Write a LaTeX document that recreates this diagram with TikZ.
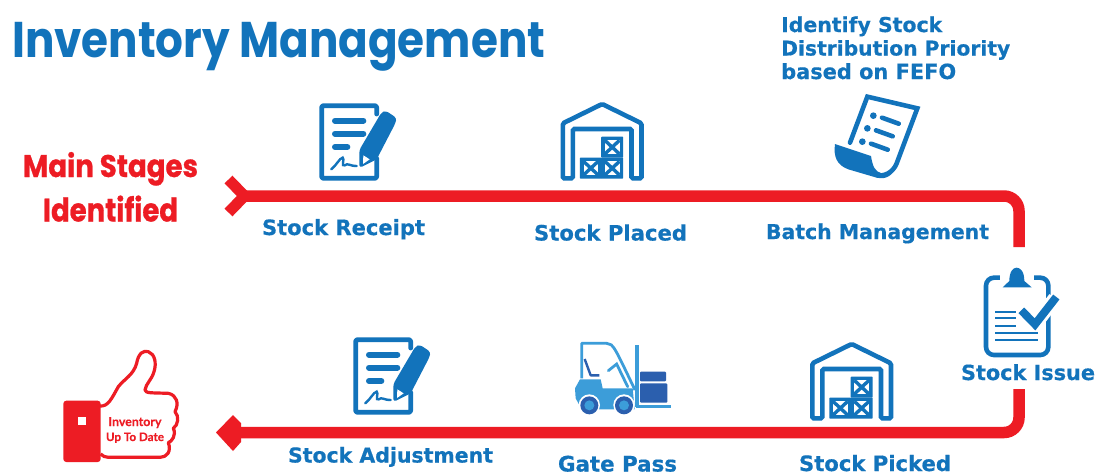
\documentclass[tikz,border=0pt]{standalone}
\usepackage{graphicx}
\usepackage{fontspec}
\setmainfont{DejaVu Sans}[BoldFeatures={FakeBold=0.5}]
\newfontfamily\titlefont{Poppins}
\newfontfamily\redfont{Poppins}[BoldFeatures={FakeBold=0.8}]
\newfontfamily\thumbfont{Lato}[BoldFeatures={FakeBold=0.3}]
\definecolor{invblue}{HTML}{1273BB}
\definecolor{invred}{HTML}{ED1C24}
\definecolor{liftlight}{HTML}{3C9DD9}
\definecolor{liftdark}{HTML}{2B5FAE}
\newcommand{\fitbold}[2]{\resizebox{#1pt}{!}{\bfseries #2}}
\newcommand{\crateat}[2]{%
  \fill[invblue,rounded corners=0.7pt] (#1,#2) rectangle (#1+66,#2+63);
  \fill[white] (#1+11,#2+11) rectangle (#1+55,#2+52);
  \draw[invblue,line width=3.4pt] (#1+11,#2+11)--(#1+55,#2+52) (#1+55,#2+11)--(#1+11,#2+52);
}
\tikzset{
  lbl/.style={text=invblue,inner sep=0pt,anchor=base},
  redlbl/.style={text=invred,inner sep=0pt,anchor=base},
  flowline/.style={draw=invred,line width=11.5pt,line cap=butt,rounded corners=15pt},
  iconline/.style={draw=invblue,line width=5pt,line cap=round,line join=round},
  thinline/.style={draw=invblue,line width=2pt},
  gapline/.style={draw=white,line join=round},
  zoomed/.style={shift={#1},scale=0.33333},
}
\newcommand{\docpenicon}{%
    \draw[iconline,line width=4.8pt,rounded corners=2pt] (470,72)--(470,47)--(305,47)--(305,265)--(470,265)--(470,205);
    \draw[iconline,line width=6pt] (345,92)--(430,92) (345,131)--(430,131) (345,171)--(382,171);
    \fill[invblue,rounded corners=3pt] (484,68)--(497,62)--(530,84)--(526,100)--(470,208)--(418,234)--(418,180)--cycle;
    \fill[white] (430,196)--(449,208)--(429,222)--cycle;
    \draw[invblue,line width=2.4pt,line cap=round] (334,238) .. controls (350,225) and (358,205) .. (368,203) .. controls (375,205) and (362,232) .. (374,226) .. controls (384,218) and (388,228) .. (410,228);
}
\newcommand{\barnicon}{%
    \draw[iconline,line width=4.6pt,line join=miter,rounded corners=1.5pt] (127,490)--(97,490)--(97,325)--(215,267)--(333,325)--(333,490)--(303,490)--(303,342)--(127,342)--cycle;
    \crateat{148}{428}
    \crateat{212}{428}
    \crateat{212}{365}
}
\begin{document}
\begin{tikzpicture}[x=1pt,y=-1pt]
\useasboundingbox (0,0) rectangle (1100,475);
\fill[white] (0,0) rectangle (1100,475);

% title and side labels
\node[lbl,anchor=base west] (title) at (12,57) {\titlefont\resizebox*{533pt}{49pt}{\bfseries Inventory Management}};
\node[redlbl] (mainA) at (110.5,177) {\redfont\resizebox{175pt}{25pt}{\bfseries Main Stages}};
\node[redlbl] (mainB) at (110.5,221.5) {\redfont\resizebox{135pt}{26pt}{\bfseries Identified}};

% step labels
\node[lbl] (receipt) at (343.5,235) {\fitbold{163}{Stock Receipt}};
\node[lbl] (placed) at (610.5,240.5) {\fitbold{153}{Stock Placed}};
\node[lbl] (batch) at (877.5,239) {\fitbold{223}{Batch Management}};
\node[lbl] (issue) at (1028,380) {\fitbold{134}{Stock Issue}};
\node[lbl] (picked) at (875,471) {\fitbold{152}{Stock Picked}};
\node[lbl] (gate) at (617.5,471.5) {\fitbold{119}{Gate Pass}};
\node[lbl] (adjust) at (390.5,462.5) {\fitbold{205}{Stock Adjustment}};
\node[lbl,anchor=base west] (identA) at (781,32) {\fitbold{161}{Identify Stock}};
\node[lbl,anchor=base west] (identB) at (781,55.5) {\fitbold{229}{Distribution Priority}};
\node[lbl,anchor=base west] (identC) at (781,79) {\fitbold{175}{based on FEFO}};

% connectors
\coordinate (topStart) at (244,196);
\coordinate (topCorner) at (1019,196);
\coordinate (issueIn) at (1019,247);
\coordinate (issueOut) at (1019,389);
\coordinate (botCorner) at (1019,432.5);
\coordinate (botEnd) at (236,432.5);
\coordinate (tailTop) at (228.5,179.5);
\coordinate (tailBot) at (228.5,212.5);
\coordinate (tailTip) at (244.5,196);
\draw[flowline] (topStart) -- (topCorner) -- (issueIn);
\draw[draw=invred,line width=11pt,line join=miter] (tailTop) -- (tailTip) -- (tailBot);
\draw[flowline] (issueOut) -- (botCorner) -- (botEnd);
\fill[invred] (216,432.5)--(233,415)--(241,423)--(241,442)--(233,451)--cycle;

% document icons
\begin{scope}[zoomed={(220,90)}]
  \docpenicon
\end{scope}
\begin{scope}[zoomed={(254,324)}]
  \docpenicon
\end{scope}

% warehouse icons
\begin{scope}[zoomed={(530.5,15)}]
  \barnicon
\end{scope}
\begin{scope}[zoomed={(780,255)}]
  \barnicon
\end{scope}

% batch list icon
\begin{scope}[zoomed={(740,0)}]
  \draw[iconline,line width=4.6pt,line join=miter] (330,428)--(382,290)--(532,325)--(470,490) .. controls (458,520) and (430,530) .. (410,525);
  \fill[invblue] (285,432)--(393,468) .. controls (398,500) and (405,515) .. (425,520) .. controls (445,522) and (455,510) .. (462,495)--(470,495) .. controls (460,525) and (440,540) .. (410,533)--(325,508) .. controls (290,495) and (280,470) .. (285,432)--cycle;
  \foreach \bx/\by in {400/347,382/385,367/425}{
    \fill[invblue] (\bx,\by) circle (10);
    \draw[iconline,line width=4.6pt] (\bx+26,\by+6)--(\bx+76,\by+24);
  }
\end{scope}

% clipboard icon
\begin{scope}[zoomed={(780,255)}]
  \draw[iconline,line width=4.6pt,rounded corners=8pt] (618,68) rectangle (805,300);
  \fill[white] (660,60) rectangle (762,100);
  \fill[invblue] (668,97)--(755,97)--(733,78) .. controls (733,48) and (720,38) .. (710,38) .. controls (700,38) and (688,48) .. (688,78)--cycle;
  \draw[thinline] (645,170)--(708,170) (645,190)--(708,190) (645,212)--(708,212) (645,234)--(775,234) (645,254)--(775,254);
  \draw[gapline,line width=14pt] (728,172)--(765,208)--(825,130);
  \draw[draw=invblue,line width=8pt] (724,166)--(765,208)--(829,126);
\end{scope}

% forklift icon
\begin{scope}[zoomed={(330,320)}]
  \draw[draw=liftlight,line width=2.8pt,line join=round] (755,175)--(755,70)--(830,70) .. controls (850,70) and (855,85) .. (915,210);
  \draw[draw=liftlight,line width=2.8pt,line cap=round] (835,152)--(860,132)--(893,200);
  \draw[draw=liftdark,line width=2.4pt,line join=round] (764,117)--(782,166)--(808,166);
  \fill[liftlight] (750,178)--(812,178)--(818,205)--(908,205)--(914,268)--(755,268)--(737,235)--(735,205)--cycle;
  \draw[draw=liftlight,line width=4pt] (920,76)--(920,262);
  \draw[draw=liftlight,line width=3pt] (918,258)--(1022,258);
  \fill[liftdark,rounded corners=1pt] (930,155) rectangle (1008,184);
  \fill[liftdark,rounded corners=1pt] (930,190) rectangle (1012,248);
  \foreach \wx in {778,882}{
    \fill[white] (\wx,255) circle (32);
    \fill[liftdark] (\wx,256) circle (27);
    \fill[liftlight] (\wx,256) circle (15);
  }
\end{scope}

% thumbs-up
\begin{scope}[zoomed={(40,340)}]
  \fill[invred,rounded corners=3pt] (70,182) rectangle (182,366);
  \fill[white] (113,232) rectangle (137,256);
  \draw[draw=invred,line width=3.2pt,line join=round] (180,198) .. controls (205,200) and (215,175) .. (235,140) .. controls (255,115) and (280,105) .. (290,70) .. controls (295,40) and (310,30) .. (325,35) .. controls (345,42) and (350,70) .. (342,95) .. controls (335,120) and (318,130) .. (315,150) .. controls (318,160) and (330,158) .. (385,160) .. controls (410,165) and (418,190) .. (405,215) .. controls (418,228) and (415,255) .. (400,265) .. controls (410,285) and (395,305) .. (385,308) .. controls (395,335) and (380,352) .. (360,352) -- (205,352) .. controls (195,352) and (188,348) .. (182,342);
\end{scope}
\node[redlbl] (thumbA) at (135,426) {\thumbfont\fitbold{53}{Inventory}};
\node[redlbl] (thumbB) at (135,441) {\thumbfont\fitbold{58}{Up To Date}};
\end{tikzpicture}
\end{document}
